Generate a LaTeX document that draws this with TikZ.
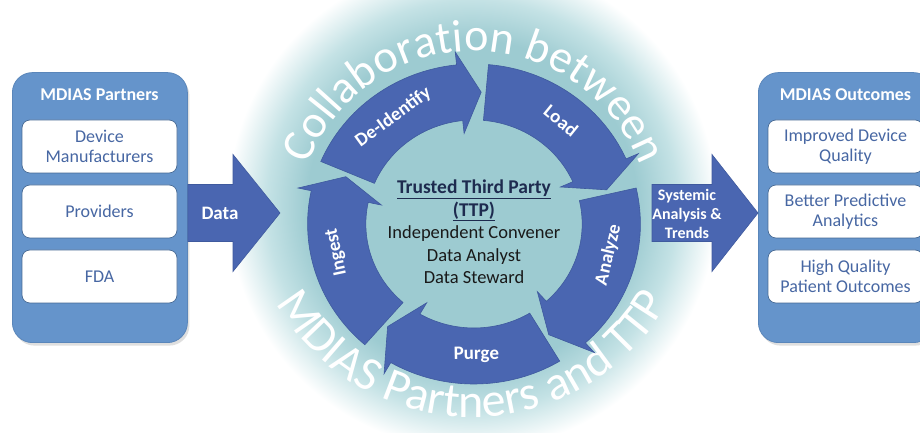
\documentclass[tikz,border=0pt]{standalone}
\usepackage{fontspec}
\setmainfont{Carlito}
\usetikzlibrary{decorations.text,shadows}
\definecolor{boxblue}{HTML}{6594CB}
\definecolor{boxedge}{HTML}{5A86BA}
\definecolor{arrblue}{HTML}{4A66B1}
\definecolor{arredge}{HTML}{3F5A9E}
\definecolor{txtblue}{HTML}{4767A3}
\definecolor{glowA}{HTML}{9DCBD1}
\definecolor{glowB}{HTML}{C4E2E5}
\definecolor{ttpnavy}{HTML}{1E2B4F}
% square of half-size 600 <-> 25bp : 165px=6.875bp, 205px=8.54bp, 245px=10.2bp
\pgfdeclareradialshading{glow}{\pgfpoint{0bp}{0bp}}{color(0bp)=(glowA); color(6.875bp)=(glowA); color(8.54bp)=(glowB); color(10.2bp)=(white); color(50bp)=(white)}
\newcommand\cycarrow[3]{%
  \path[cyclearrow] (#1:160) arc[start angle=#1, end angle=#2, radius=160]
    -- (#2:173) -- (#3:132) -- (#2:91) -- (#2:104)
    arc[start angle=#2, end angle=#1, radius=104] -- cycle;}
\begin{document}
\begin{tikzpicture}[x=1pt,y=1pt,
  outerbox/.style={draw=boxedge, fill=boxblue, rounded corners=20pt, line width=0.8pt,
    minimum width=175pt, minimum height=270pt, anchor=south west, inner sep=0pt,
    drop shadow={opacity=0.25, shadow xshift=2pt, shadow yshift=-3pt}},
  innerbox/.style={draw=boxedge!80!black, fill=white, rounded corners=8pt, line width=0.7pt,
    minimum width=155pt, minimum height=53pt, align=center, text=txtblue, inner sep=0pt,
    font=\fontsize{18}{20}\selectfont},
  boxtitle/.style={text=white, font=\bfseries\fontsize{18}{20}\selectfont},
  cyclearrow/.style={fill=arrblue, draw=arredge, line width=0.6pt},
  cyclelabel/.style={text=white, font=\bfseries\fontsize{19}{21}\selectfont},
  bigarrow/.style={fill=arrblue, draw=arredge, line width=0.6pt},
  arrowlabel/.style={text=white, align=center, font=\bfseries\fontsize{16}{19}\selectfont}
]
\clip (0,0) rectangle (920,433);
\fill[white] (0,0) rectangle (920,433);
\fill[shading=glow] (-128,-372) rectangle (1072,828);

% arched texts
\path[decorate, decoration={text along path, text align=center, text color=white,
  text={|\fontsize{46}{54}\selectfont|Collaboration between}}]
  (474,204) ++(170:178) arc[start angle=170, end angle=10, radius=178];
\path[decorate, decoration={text along path, text align=center, text color=white,
  text={|\fontsize{48}{56}\selectfont|MDIAS Partners and TTP}}]
  (472,241) ++(195:225) arc[start angle=195, end angle=345, radius=225];

% left box
\node[outerbox] (partners) at (12,90) {};
\node[boxtitle] (ptitle) at (99.5,338) {MDIAS Partners};
\node[innerbox] (dev) at (99.5,286.5) {Device\\Manufacturers};
\node[innerbox] (prov) at (99.5,221.5) {Providers};
\node[innerbox] (fda) at (99.5,156.5) {FDA};

% right box
\node[outerbox] (outcomes) at (758,90) {};
\node[boxtitle] (otitle) at (845.5,338) {MDIAS Outcomes};
\node[innerbox] (qual) at (845.5,286.5) {Improved Device\\Quality};
\node[innerbox] (pred) at (845.5,221.5) {Better Predictive\\Analytics};
\node[innerbox] (pat) at (845.5,156.5) {High Quality\\Patient Outcomes};

% data arrow
\path[bigarrow] (partners.east |- 0,248.5) -- (233,248.5) -- (233,278.5) -- (280,220)
  -- (233,161.5) -- (233,191.5) -- (partners.east |- 0,191.5) -- cycle;
\node[arrowlabel, font=\bfseries\fontsize{19}{21}\selectfont] (data) at (220,220) {Data};

% systemic arrow
\path[bigarrow] (652,248.5) -- (712,248.5) -- (712,278.5) -- (outcomes.west |- 0,220)
  -- (712,161.5) -- (712,191.5) -- (652,191.5) -- cycle;
\node[arrowlabel] (sys) at (687,219) {Systemic\\Analysis \&\\Trends};

% cycle
\begin{scope}[shift={(474,209)}, xscale=1.04]
  \cycarrow{229}{168}{159}
  \cycarrow{157}{96}{87}
  \cycarrow{85}{24}{15}
  \cycarrow{13}{-48}{-57}
  \cycarrow{-59}{-120}{-129}
  \node[cyclelabel, rotate=36] (deid) at (126:132) {De-Identify};
  \node[cyclelabel, rotate=-39] (load) at (51:133) {Load};
  \node[cyclelabel, rotate=76.5] (analyze) at (-13.5:133) {Analyze};
  \node[cyclelabel, rotate=1] (purge) at (-89:131) {Purge};
  \node[cyclelabel, rotate=102] (ingest) at (192:135) {Ingest};
  \node[align=center, font=\fontsize{18.5}{22.5}\selectfont, text=black!90] (ttp) at (0,-8)
    {{\color{ttpnavy}\bfseries\fontsize{19.5}{22.5}\selectfont\underline{Trusted Third Party}}\\
     {\color{ttpnavy}\bfseries\fontsize{19.5}{22.5}\selectfont\underline{(TTP)}}\\
     Independent Convener\\ Data Analyst\\ Data Steward};
\end{scope}
\end{tikzpicture}
\end{document}
